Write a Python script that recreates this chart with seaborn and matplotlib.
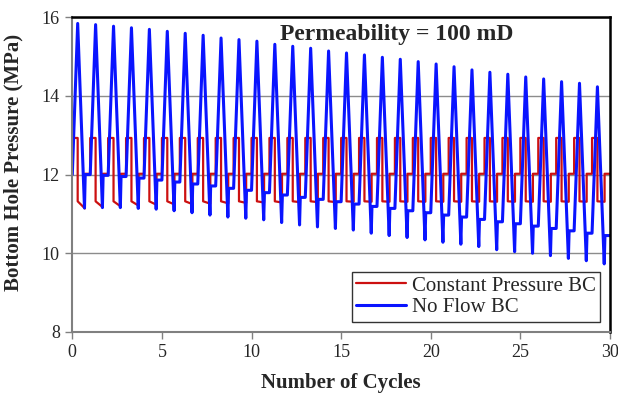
import numpy as np
import pandas as pd
import matplotlib
matplotlib.use("Agg")
import matplotlib.pyplot as plt
import seaborn as sns

# ========== data ==========
cycles = list(range(30))

# No Flow BC: peak, trough and shut-in level per cycle (MPa)
blue_peak = [15.84, 15.81, 15.77, 15.73, 15.69, 15.64, 15.59, 15.54, 15.47, 15.43,
             15.39, 15.31, 15.26, 15.21, 15.14, 15.09, 15.04, 14.98, 14.93, 14.87,
             14.81, 14.74, 14.66, 14.60, 14.55, 14.48, 14.43, 14.36, 14.32, 14.23]
blue_trough = [11.15, 11.16, 11.16, 11.14, 11.12, 11.08, 11.03, 10.97, 10.92, 10.89,
               10.85, 10.78, 10.72, 10.67, 10.63, 10.59, 10.51, 10.45, 10.40, 10.34,
               10.28, 10.23, 10.17, 10.09, 10.04, 10.00, 9.94, 9.87, 9.81, 9.73]
blue_shutin = [12.00, 11.98, 11.95, 11.91, 11.86, 11.81, 11.76, 11.71, 11.65, 11.60,
               11.54, 11.48, 11.42, 11.37, 11.31, 11.25, 11.19, 11.14, 11.08, 11.03,
               10.97, 10.92, 10.86, 10.80, 10.75, 10.69, 10.63, 10.57, 10.51, 10.45]
initial_pressure = 12.0

# Constant Pressure BC: injection / production / shut-in levels
red_high = 12.93
red_mid = 12.02
red_low_start = 11.32
red_low_end = [11.14, 11.17, 11.19, 11.21, 11.23, 11.24, 11.25, 11.26, 11.27, 11.28,
               11.29, 11.29, 11.30, 11.30, 11.30, 11.31, 11.31, 11.31, 11.31, 11.31,
               11.31, 11.31, 11.31, 11.31, 11.31, 11.31, 11.31, 11.31, 11.31, 11.31]

# fraction of a cycle spent in each stage
inj_end = 0.3
prod_end = 0.68
shut_start = 0.72

# ========== build the time series ==========
bt, bp = [], []
prev = initial_pressure
for n in cycles:
    bt += [n, n + inj_end, n + prod_end, n + shut_start]
    bp += [prev, blue_peak[n], blue_trough[n], blue_shutin[n]]
    prev = blue_shutin[n]
bt.append(cycles[-1] + 1)
bp.append(prev)

rt, rp = [], []
for n in cycles:
    if n > 0:
        rt.append(n)
        rp.append(red_mid)
    rt += [n, n + inj_end, n + inj_end, n + 0.7, n + 0.7]
    rp += [red_high, red_high, red_low_start, red_low_end[n], red_mid]
rt.append(cycles[-1] + 1)
rp.append(red_mid)

# ========== plot ==========
sns.set_theme(style="white")
plt.rcParams["font.family"] = ["Liberation Serif", "DejaVu Serif"]

fig, ax = plt.subplots(figsize=(6.18, 3.99), dpi=100)
fig.subplots_adjust(left=0.117, right=0.987, top=0.957, bottom=0.168)

ax.yaxis.grid(True, color="#8c8c8c", lw=1.0)
ax.set_axisbelow(True)

sns.lineplot(x=rt, y=rp, sort=False, estimator=None, color="#cc1010", lw=1.6,
             label="Constant Pressure BC", ax=ax)
sns.lineplot(x=bt, y=bp, sort=False, estimator=None, color="#0a14ff", lw=2.2,
             label="No Flow BC", ax=ax)

ax.set_xlim(0, 30)
ax.set_ylim(8, 16)
ax.set_xticks(range(0, 31, 5))
ax.set_yticks(range(8, 17, 2))
ax.tick_params(axis="both", which="both", direction="out", length=5, width=1,
               color="#808080", labelsize=13, pad=4, left=True, bottom=True)

for side in ["left", "bottom"]:
    ax.spines[side].set_color("#808080")
    ax.spines[side].set_linewidth(1.5)
for side in ["top", "right"]:
    ax.spines[side].set_color("black")
    ax.spines[side].set_linewidth(1.8)

ax.set_xlabel("Number of Cycles", fontsize=15, fontweight="bold", labelpad=8)
ax.set_ylabel("Bottom Hole Pressure (MPa)", fontsize=15, fontweight="bold")
ax.yaxis.set_label_coords(-0.09, 0.54)

ax.text(18.1, 15.55, "Permeability = 100 mD", fontsize=17, fontweight="bold",
        ha="center", va="center")

leg = ax.legend(loc="lower right", bbox_to_anchor=(0.982, 0.033), fontsize=15,
                frameon=True, fancybox=False, handlelength=2.4, handletextpad=0.3,
                borderpad=0.2, labelspacing=0.1, borderaxespad=0)
leg.get_frame().set_edgecolor("black")
leg.get_frame().set_linewidth(1.0)

plt.savefig("out.png", dpi=100)
